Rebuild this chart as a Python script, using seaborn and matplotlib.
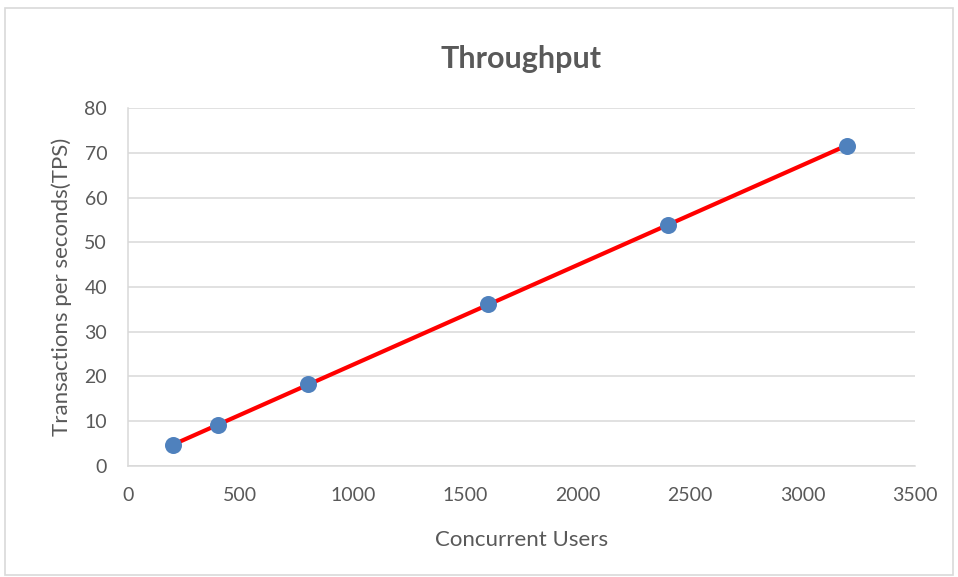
import numpy as np
import pandas as pd
import matplotlib
matplotlib.use("Agg")
import matplotlib.pyplot as plt
import seaborn as sns
from matplotlib.patches import Rectangle

users = [200, 400, 800, 1600, 2400, 3200]
tps = [4.6, 9.2, 18.3, 36.1, 53.9, 71.6]
x_ticks = [0, 500, 1000, 1500, 2000, 2500, 3000, 3500]
y_ticks = [0, 10, 20, 30, 40, 50, 60, 70, 80]

df = pd.DataFrame({"users": users, "tps": tps})

sns.set_style("white")
plt.rcParams["font.family"] = ["Lato", "DejaVu Sans"]

fig = plt.figure(figsize=(9.58, 5.77), dpi=100)
ax = fig.add_axes([0.1336, 0.1924, 0.8214, 0.6204])

grey = "#595959"
# linear trendline
sns.regplot(data=df, x="users", y="tps", ax=ax, scatter=False, ci=None,
            truncate=True, line_kws={"color": "#FF0000", "lw": 3.0, "zorder": 3})
sns.scatterplot(data=df, x="users", y="tps", ax=ax, s=150, color="#4F81BD",
                edgecolor="#4F81BD", linewidth=0, zorder=4)

ax.set_xlim(0, 3500)
ax.set_ylim(0, 80)
ax.set_xticks(x_ticks)
ax.set_yticks(y_ticks)
ax.yaxis.grid(True, color="#D9D9D9", lw=1.1)
ax.set_axisbelow(True)
for s in ["top", "right"]:
    ax.spines[s].set_visible(False)
for s in ["left", "bottom"]:
    ax.spines[s].set_color("#D9D9D9")
    ax.spines[s].set_linewidth(1.1)
ax.tick_params(axis="both", labelsize=14, colors=grey, length=0)
ax.tick_params(axis="x", pad=15)
ax.tick_params(axis="y", pad=15)
ax.set_xlabel("Concurrent Users", fontsize=16, color=grey, labelpad=19)
ax.set_ylabel("Transactions per seconds(TPS)", fontsize=16, color=grey, labelpad=9)
ax.set_title("Throughput", fontsize=22, fontweight="bold", color=grey, pad=29)

fig.patches.append(Rectangle((0.005, 0.003), 0.99, 0.983, transform=fig.transFigure,
                             fill=False, edgecolor="#D9D9D9", lw=1.2))

fig.savefig("out.png", dpi=100)
